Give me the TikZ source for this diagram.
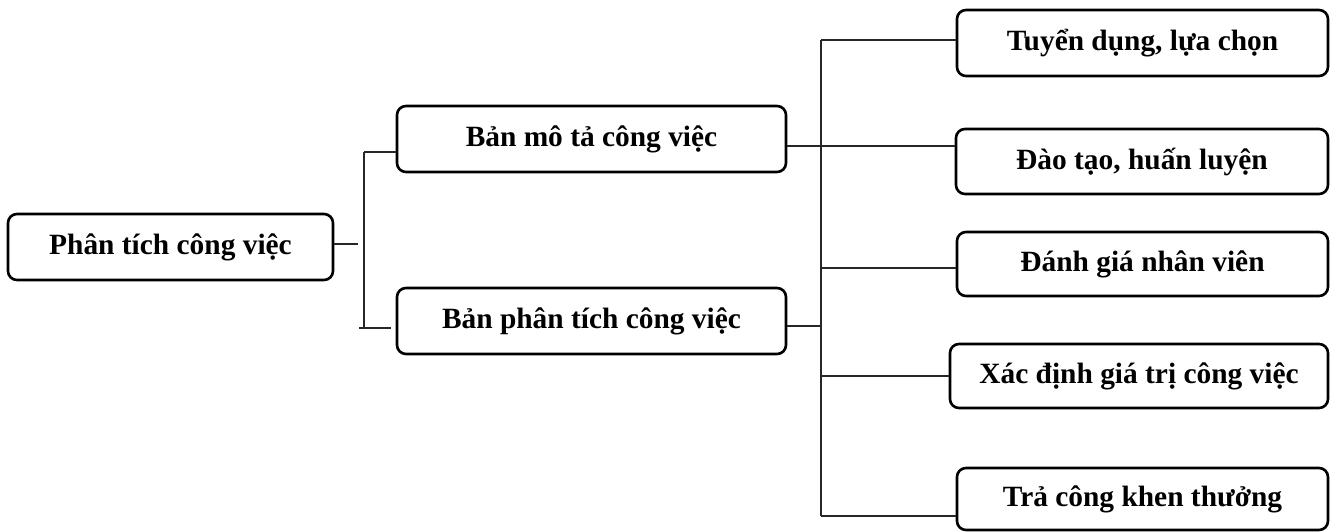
\documentclass[tikz,border=0pt]{standalone}
\usepackage{fontspec}
\setmainfont{Liberation Serif}
\begin{document}
\begin{tikzpicture}[x=1pt,y=-1pt,
  box/.style={draw, line width=2.6pt, rounded corners=9pt, inner sep=0pt,
    font=\fontsize{29.4}{34}\selectfont\bfseries, align=center},
  link/.style={line width=1.1pt, draw=black!85}]
\useasboundingbox (0,0) rectangle (1336,532);
\node[box, minimum width=325pt, minimum height=66pt] (a) at (170.5,247) {Phân tích công việc};
\node[box, minimum width=389pt, minimum height=66pt] (b) at (591.5,139) {Bản mô tả công việc};
\node[box, minimum width=389pt, minimum height=66pt] (c) at (591.5,321) {Bản phân tích công việc};
\node[box, minimum width=371pt, minimum height=66pt] (r1) at (1142.5,43) {Tuyển dụng, lựa chọn};
\node[box, minimum width=372pt, minimum height=65pt] (r2) at (1142,161.5) {Đào tạo, huấn luyện};
\node[box, minimum width=371pt, minimum height=64pt] (r3) at (1142.5,264) {Đánh giá nhân viên};
\node[box, minimum width=378pt, minimum height=64pt] (r4) at (1139,376) {Xác định giá trị công việc};
\node[box, minimum width=371pt, minimum height=62pt] (r5) at (1142.5,499) {Trả công khen thưởng};
% left bracket
\coordinate (ls1) at (364,152);
\coordinate (ls2) at (364,328);
\draw[link] (a.east |- 0,244) -- (358,244);
\draw[link] (ls1) -- (ls2);
\draw[link] (ls1) -- (ls1 -| b.west);
\draw[link] (359,328) -- ([xshift=-5pt]ls2 -| c.west);
% right bracket
\coordinate (rs1) at (821,40);
\coordinate (rs2) at (821,516);
\draw[link] (rs1) -- (rs2);
\draw[link] (rs1) -- (rs1 -| r1.west);
\draw[link] (b.east |- 0,146) -- (r2.west |- 0,146);
\draw[link] (rs1 |- 0,268) -- (r3.west |- 0,268);
\draw[link] (c.east |- 0,326) -- (rs1 |- 0,326);
\draw[link] (rs1 |- r4.west) -- (r4.west);
\draw[link] (rs2) -- (rs2 -| r5.west);
\end{tikzpicture}
\end{document}
